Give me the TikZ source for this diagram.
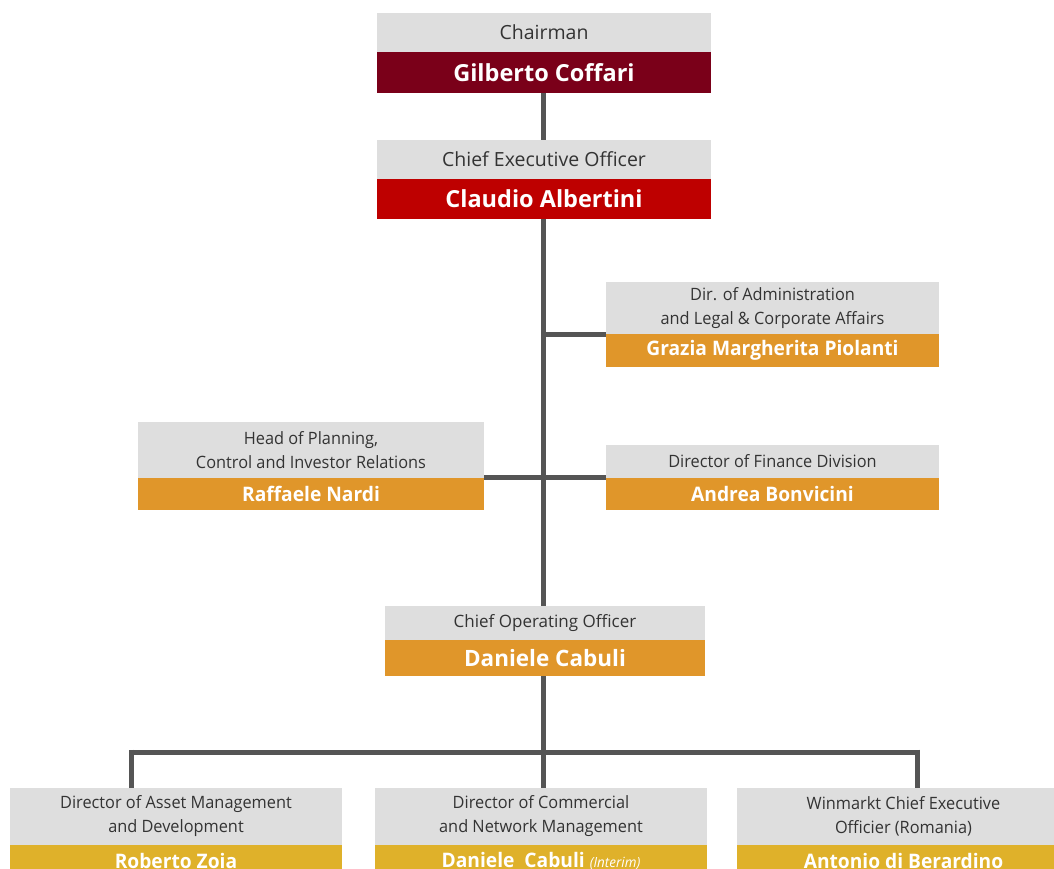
\documentclass[tikz,border=0pt]{standalone}
\usepackage{fontspec}
\setmainfont{Open Sans}
\newfontfamily\narrowfont[FakeStretch=0.96]{Open Sans}
\definecolor{boxgray}{HTML}{DEDEDE}
\definecolor{chairred}{HTML}{7A0019}
\definecolor{ceored}{HTML}{BE0000}
\definecolor{orgorange}{HTML}{E0962A}
\definecolor{orgyellow}{HTML}{DFB12A}
\definecolor{linegray}{HTML}{555555}
\definecolor{titletext}{HTML}{333333}
\tikzset{
  titlebox/.style={fill=boxgray, inner sep=0pt, align=center, text=titletext},
  namebox/.style={inner sep=0pt, align=center, text=white},
  conn/.style={draw=linegray, line width=5pt},
  chairT/.style={font=\fontsize{19.5}{23}\selectfont},
  chairN/.style={fill=chairred, font=\bfseries\fontsize{23.5}{27}\selectfont},
  ceoT/.style={font=\fontsize{19.5}{23}\selectfont},
  ceoN/.style={fill=ceored, font=\bfseries\fontsize{23.5}{27}\selectfont},
  cooT/.style={font=\fontsize{17}{20}\selectfont},
  cooN/.style={fill=orgorange, font=\bfseries\fontsize{22.5}{26}\selectfont},
  dirT/.style={font=\narrowfont\fontsize{17}{23.5}\selectfont},
  dirN/.style={fill=orgorange, font=\narrowfont\bfseries\fontsize{20}{24}\selectfont},
  subT/.style={font=\narrowfont\fontsize{17}{24}\selectfont},
  subN/.style={fill=orgyellow, font=\narrowfont\bfseries\fontsize{20}{24}\selectfont},
}
% id, x1, x2, ytop, ymid, ybot, kind, title, name
\newcommand\orgbox[9]{%
  \node[titlebox, #7T, minimum width={#3-#2}, minimum height={#5-#4}] (#1t) at ({(#2+#3)/2},{(#4+#5)/2}) {#8};
  \node[namebox, #7N, minimum width={#3-#2}, minimum height={#6-#5}] (#1n) at ({(#2+#3)/2},{(#5+#6)/2}) {#9};
}
\begin{document}
\begin{tikzpicture}[x=1pt,y=-1pt]
\useasboundingbox (0,0) rectangle (1054,868);
\clip (0,0) rectangle (1054,868);
% boxes
\orgbox{chair}{377}{711}{13}{52}{93}{chair}{Chairman}{Gilberto Coffari}
\orgbox{ceo}{377}{711}{140}{179}{219}{ceo}{Chief Executive Officer}{Claudio Albertini}
\orgbox{adm}{606}{939}{282}{334}{367}{dir}{Dir. of Administration\\and Legal \& Corporate Affairs}{Grazia Margherita Piolanti}
\orgbox{plan}{138}{484}{422}{478}{510}{dir}{Head of Planning,\\Control and Investor Relations}{Raffaele Nardi}
\orgbox{fin}{606}{939}{445}{478}{510}{dir}{Director of Finance Division}{Andrea Bonvicini}
\orgbox{coo}{385}{705}{606}{640}{676}{coo}{Chief Operating Officer}{Daniele Cabuli}
\orgbox{asset}{10}{342}{788}{845}{876}{sub}{Director of Asset Management\\and Development}{Roberto Zoia}
\orgbox{comm}{375}{707}{788}{845}{876}{sub}{Director of Commercial\\and Network Management}{Daniele\ \ Cabuli {\itshape\mdseries\fontsize{14}{16}\selectfont (Interim)}}
\orgbox{win}{737}{1070}{788}{845}{876}{sub}{Winmarkt Chief Executive\\Officier (Romania)}{Antonio di Berardino}
% connectors
\coordinate (spine) at (543,0);
\coordinate (busL) at (131,752);
\coordinate (busR) at (917,752);
\coordinate (busM) at (543,752);
\coordinate (j1) at (543,334);
\draw[conn] (spine |- chairn.south) -- (spine |- ceot.north);
\draw[conn] (spine |- ceon.south) -- (spine |- coot.north);
\draw[conn] (j1) -- (admn.north west |- j1);
\draw[conn] (plann.north east) -- (finn.north west);
\draw[conn] (spine |- coon.south) -- (busM);
\draw[conn] (busL) -- (busR);
\draw[conn] ([yshift=2.5pt]busL) -- (busL |- assett.north);
\draw[conn] (busM) -- (busM |- commt.north);
\draw[conn] ([yshift=2.5pt]busR) -- (busR |- wint.north);
\end{tikzpicture}
\end{document}
